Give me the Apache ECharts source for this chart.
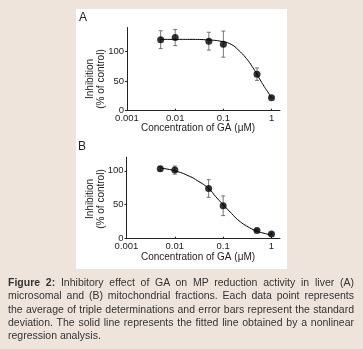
<!DOCTYPE html>
<html>
<head>
<meta charset="utf-8">
<script src="https://cdn.jsdelivr.net/npm/echarts@6/dist/echarts.min.js"></script>
<style>
html,body{margin:0;padding:0;background:#EFE4DC;}
#chart{position:absolute;left:0;top:0;width:363px;height:349px;}
#cap{position:absolute;left:8px;top:276px;width:346px;font-family:Arial,"Liberation Sans",sans-serif;font-size:10.5px;line-height:13.3px;color:#333;text-align:justify;}
</style>
</head>
<body>
<div id="chart"></div>
<div id="cap"><b>Figure 2:</b> Inhibitory effect of GA on MP reduction activity in liver (A) microsomal and (B) mitochondrial fractions. Each data point represents the average of triple determinations and error bars represent the standard deviation. The solid line represents the fitted line obtained by a nonlinear regression analysis.</div>
<script>
// ---- data ----
const concentrations = [0.005, 0.01, 0.05, 0.1, 0.5, 1];
const meanA = [119.5, 123, 117, 112, 61.5, 22];
const sdA   = [15, 13.5, 15, 22, 10.5, 0];
const meanB = [103, 101, 74, 48.5, 12, 7];
const sdB   = [3, 6, 13, 14.5, 1.5, 1.5];
// fitted curves
const fitConcA = [0.005, 0.01, 0.02, 0.05, 0.1, 0.15, 0.2, 0.3, 0.4, 0.5, 0.6, 0.7, 0.8, 1];
const fitValA  = [120, 120, 120, 119, 116, 111, 103, 88, 74, 61, 50, 41, 34, 22];
const fitConcB = [0.005, 0.01, 0.02, 0.03, 0.05, 0.07, 0.1, 0.15, 0.2, 0.3, 0.5, 0.7, 1];
const fitValB  = [104, 100, 92, 85, 74, 62, 50, 37, 28, 19, 11, 8, 5.5];
const xTicks = [0.001, 0.01, 0.1, 1];
const yTicks = [0, 50, 100];
const yMaxA = 140, yMaxB = 120;

const FONT = 'Arial, "Liberation Sans", sans-serif';
const chart = echarts.init(document.getElementById('chart'), null, {renderer: 'canvas'});

function pairs(xs, ys){ return xs.map((x,i)=>[x, ys[i]]); }
function errData(xs, m, s){ return xs.map((x,i)=>[x, m[i]-s[i], m[i]+s[i]]); }

function errSeries(idx, data){
  return {
    type: 'custom', xAxisIndex: idx, yAxisIndex: idx, z: 3,
    data: data,
    renderItem: function(params, api){
      const lo = api.coord([api.value(0), api.value(1)]);
      const hi = api.coord([api.value(0), api.value(2)]);
      const w = 2;
      const st = {stroke: '#555', lineWidth: 0.8};
      return {type: 'group', children: [
        {type: 'line', shape: {x1: lo[0], y1: lo[1], x2: hi[0], y2: hi[1]}, style: st},
        {type: 'line', shape: {x1: lo[0]-w, y1: lo[1], x2: lo[0]+w, y2: lo[1]}, style: st},
        {type: 'line', shape: {x1: hi[0]-w, y1: hi[1], x2: hi[0]+w, y2: hi[1]}, style: st}
      ]};
    }
  };
}

function xAxis(idx){
  return {
    type: 'log', logBase: 10, gridIndex: idx, min: 0.001, max: 1.5,
    axisLine: {lineStyle: {color: '#222', width: 1}},
    axisTick: {inside: true, length: 2, customValues: xTicks, lineStyle: {color: '#222'}},
    axisLabel: {customValues: xTicks, color: '#222', fontSize: 9.5, fontFamily: FONT, margin: 3,
      formatter: v => String(+(+v).toPrecision(6))},
    splitLine: {show: false}, minorTick: {show: false}
  };
}
function yAxis(idx, max){
  return {
    type: 'value', gridIndex: idx, min: 0, max: max,
    axisLine: {show: true, lineStyle: {color: '#222', width: 1}},
    axisTick: {show: true, length: 2, customValues: yTicks, lineStyle: {color: '#222'}},
    axisLabel: {customValues: yTicks, color: '#222', fontSize: 9.5, fontFamily: FONT, margin: 3},
    splitLine: {show: false}
  };
}

const txt = (o) => Object.assign({type: 'text', silent: true}, o);

chart.setOption({
  backgroundColor: '#EFE4DC',
  animation: false,
  grid: [
    {left: 127, top: 27.5, width: 153, height: 83.2},
    {left: 126.5, top: 157.2, width: 153.5, height: 81.5}
  ],
  xAxis: [xAxis(0), xAxis(1)],
  yAxis: [yAxis(0, yMaxA), yAxis(1, yMaxB)],
  graphic: [
    {type: 'rect', z: -10, shape: {x: 76, y: 9, width: 211, height: 260}, style: {fill: '#ffffff'}},
    txt({x: 79, y: 12, style: {text: 'A', font: '12px ' + FONT, fill: '#222'}}),
    txt({x: 78, y: 141, style: {text: 'B', font: '12px ' + FONT, fill: '#222'}}),
    txt({x: 90.5, y: 79, rotation: Math.PI/2, style: {text: 'Inhibition', font: '10px ' + FONT, fill: '#222', align: 'center', verticalAlign: 'middle'}}),
    txt({x: 101.5, y: 79, rotation: Math.PI/2, style: {text: '(% of control)', font: '10px ' + FONT, fill: '#222', align: 'center', verticalAlign: 'middle'}}),
    txt({x: 90.5, y: 199, rotation: Math.PI/2, style: {text: 'Inhibition', font: '10px ' + FONT, fill: '#222', align: 'center', verticalAlign: 'middle'}}),
    txt({x: 101.5, y: 199, rotation: Math.PI/2, style: {text: '(% of control)', font: '10px ' + FONT, fill: '#222', align: 'center', verticalAlign: 'middle'}}),
    txt({x: 198, y: 128.5, style: {text: 'Concentration of GA (\u03bcM)', font: '10px ' + FONT, fill: '#222', align: 'center', verticalAlign: 'middle'}}),
    txt({x: 198, y: 257.5, style: {text: 'Concentration of GA (\u03bcM)', font: '10px ' + FONT, fill: '#222', align: 'center', verticalAlign: 'middle'}})
  ],
  series: [
    {type: 'line', xAxisIndex: 0, yAxisIndex: 0, data: pairs(fitConcA, fitValA), smooth: 0.5, showSymbol: false, lineStyle: {color: '#000', width: 1}, z: 2},
    errSeries(0, errData(concentrations, meanA, sdA)),
    {type: 'scatter', xAxisIndex: 0, yAxisIndex: 0, data: pairs(concentrations, meanA), symbolSize: 7, itemStyle: {color: '#000'}, z: 4},
    {type: 'line', xAxisIndex: 1, yAxisIndex: 1, data: pairs(fitConcB, fitValB), smooth: 0.5, showSymbol: false, lineStyle: {color: '#000', width: 1}, z: 2},
    errSeries(1, errData(concentrations, meanB, sdB)),
    {type: 'scatter', xAxisIndex: 1, yAxisIndex: 1, data: pairs(concentrations, meanB), symbolSize: 7, itemStyle: {color: '#000'}, z: 4}
  ]
});
</script>
</body>
</html>
